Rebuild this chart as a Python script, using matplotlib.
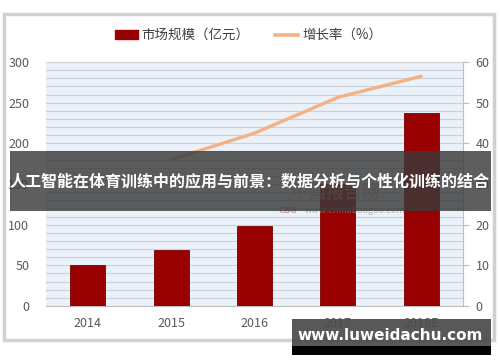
"""Market size (bars) and growth rate (line) dual-axis chart with overlay banner."""

import matplotlib
matplotlib.use("Agg")
import matplotlib.pyplot as plt
from matplotlib.patches import Rectangle
from matplotlib.lines import Line2D
from matplotlib.patches import Patch

plt.rcParams["font.family"] = ["Noto Sans CJK SC", "DejaVu Sans"]

years = ["2014", "2015", "2016", "2017", "2018E"]
market_size = [51, 69, 98, 150, 237]          # 亿元
growth_rate = [None, 36.0, 42.5, 51.3, 56.5]  # %

BAR_COLOR = "#990000"
LINE_COLOR = "#f4b183"
TICK_COLOR = "#595959"

fig = plt.figure(figsize=(5.0, 3.62), dpi=100)
fig.patch.set_facecolor("white")

# chart frame with soft border
fig.patches.append(Rectangle((0.008, 0.06), 0.98, 0.9, transform=fig.transFigure,
                             facecolor="white", edgecolor="#d0d0d0", linewidth=2.5, zorder=-5))

ax = fig.add_axes([0.092, 0.1547, 0.834, 0.674])
ax.set_facecolor("#eaf1f8")
x = list(range(len(years)))
ax.bar(x, market_size, width=0.42, color=BAR_COLOR, edgecolor="#7a0000", linewidth=0.6, zorder=3)
ax.set_xlim(-0.5, 4.5)
ax.set_ylim(0, 300)
ax.set_yticks(range(0, 301, 50))
ax.set_yticks(range(0, 301, 10), minor=True)
ax.grid(axis="y", which="both", color="#c9d1da", linewidth=0.8, zorder=1)
ax.set_axisbelow(True)
ax.set_xticks(x)
ax.set_xticklabels(years)
ax.tick_params(axis="both", which="both", length=0, colors=TICK_COLOR, labelsize=9)
ax.tick_params(axis="y", pad=12)
ax.tick_params(axis="x", pad=8)
for side in ("top", "left", "right"):
    ax.spines[side].set_visible(False)
ax.spines["bottom"].set_color("#bfbfbf")

ax2 = ax.twinx()
gx = [i for i, g in enumerate(growth_rate) if g is not None]
gy = [g for g in growth_rate if g is not None]
ax2.plot(gx, gy, color=LINE_COLOR, linewidth=2.4, solid_capstyle="round", zorder=4)
ax2.set_ylim(0, 60)
ax2.set_yticks(range(0, 61, 10))
ax2.tick_params(axis="y", length=4, color="#bfbfbf", colors=TICK_COLOR, labelsize=9, pad=5)
for side in ("top", "left", "bottom"):
    ax2.spines[side].set_visible(False)
ax2.spines["right"].set_color("#bfbfbf")

handles = [Patch(facecolor=BAR_COLOR, edgecolor=BAR_COLOR),
           Line2D([0], [0], color=LINE_COLOR, linewidth=2.6)]
leg = fig.legend(handles, ["市场规模（亿元）", "增长率（%）"], loc="center",
                 bbox_to_anchor=(0.497, 0.903), ncol=2, frameon=True, fontsize=9.7,
                 handlelength=1.7, handleheight=0.6, handletextpad=0.3,
                 columnspacing=1.9, labelcolor="#404040", borderpad=0.4)
leg.get_frame().set_edgecolor("white")

# faint source watermark, mostly hidden by the banner
fig.text(0.67, 0.468, "中国报告网", fontsize=13, color="#d9a0a0", alpha=0.5,
         ha="center", va="center", fontweight="bold", zorder=5)
fig.text(0.575, 0.418, "CBG", fontsize=6.5, color="#c06060", alpha=0.6,
         ha="center", va="center", fontweight="bold", zorder=5)
fig.text(0.71, 0.418, "www.chinabaogao.com", fontsize=6.5, color="#909090", alpha=0.6,
         ha="center", va="center", zorder=5)

# dark title banner across the middle
fig.patches.append(Rectangle((0.02, 0.417), 0.962, 0.166, transform=fig.transFigure,
                             facecolor="#3a3a3a", alpha=0.82, edgecolor="none", zorder=10))
fig.text(0.5, 0.5, "人工智能在体育训练中的应用与前景：数据分析与个性化训练的结合",
         fontsize=11.5, fontweight="bold", color="white", ha="center", va="center", zorder=11)

# site watermark bottom right
fig.patches.append(Rectangle((0.584, 0.042), 0.398, 0.077, transform=fig.transFigure,
                             facecolor="#4a4a4a", alpha=0.92, edgecolor="none", zorder=10))
fig.patches.append(Rectangle((0.584, 0.019), 0.398, 0.024, transform=fig.transFigure,
                             facecolor="black", edgecolor="none", zorder=10))
fig.text(0.78, 0.072, "www.luweidachu.com", fontsize=11, fontweight="bold",
         family="DejaVu Sans", color="white", ha="center", va="center", zorder=11)

fig.savefig("out.png", dpi=100)
